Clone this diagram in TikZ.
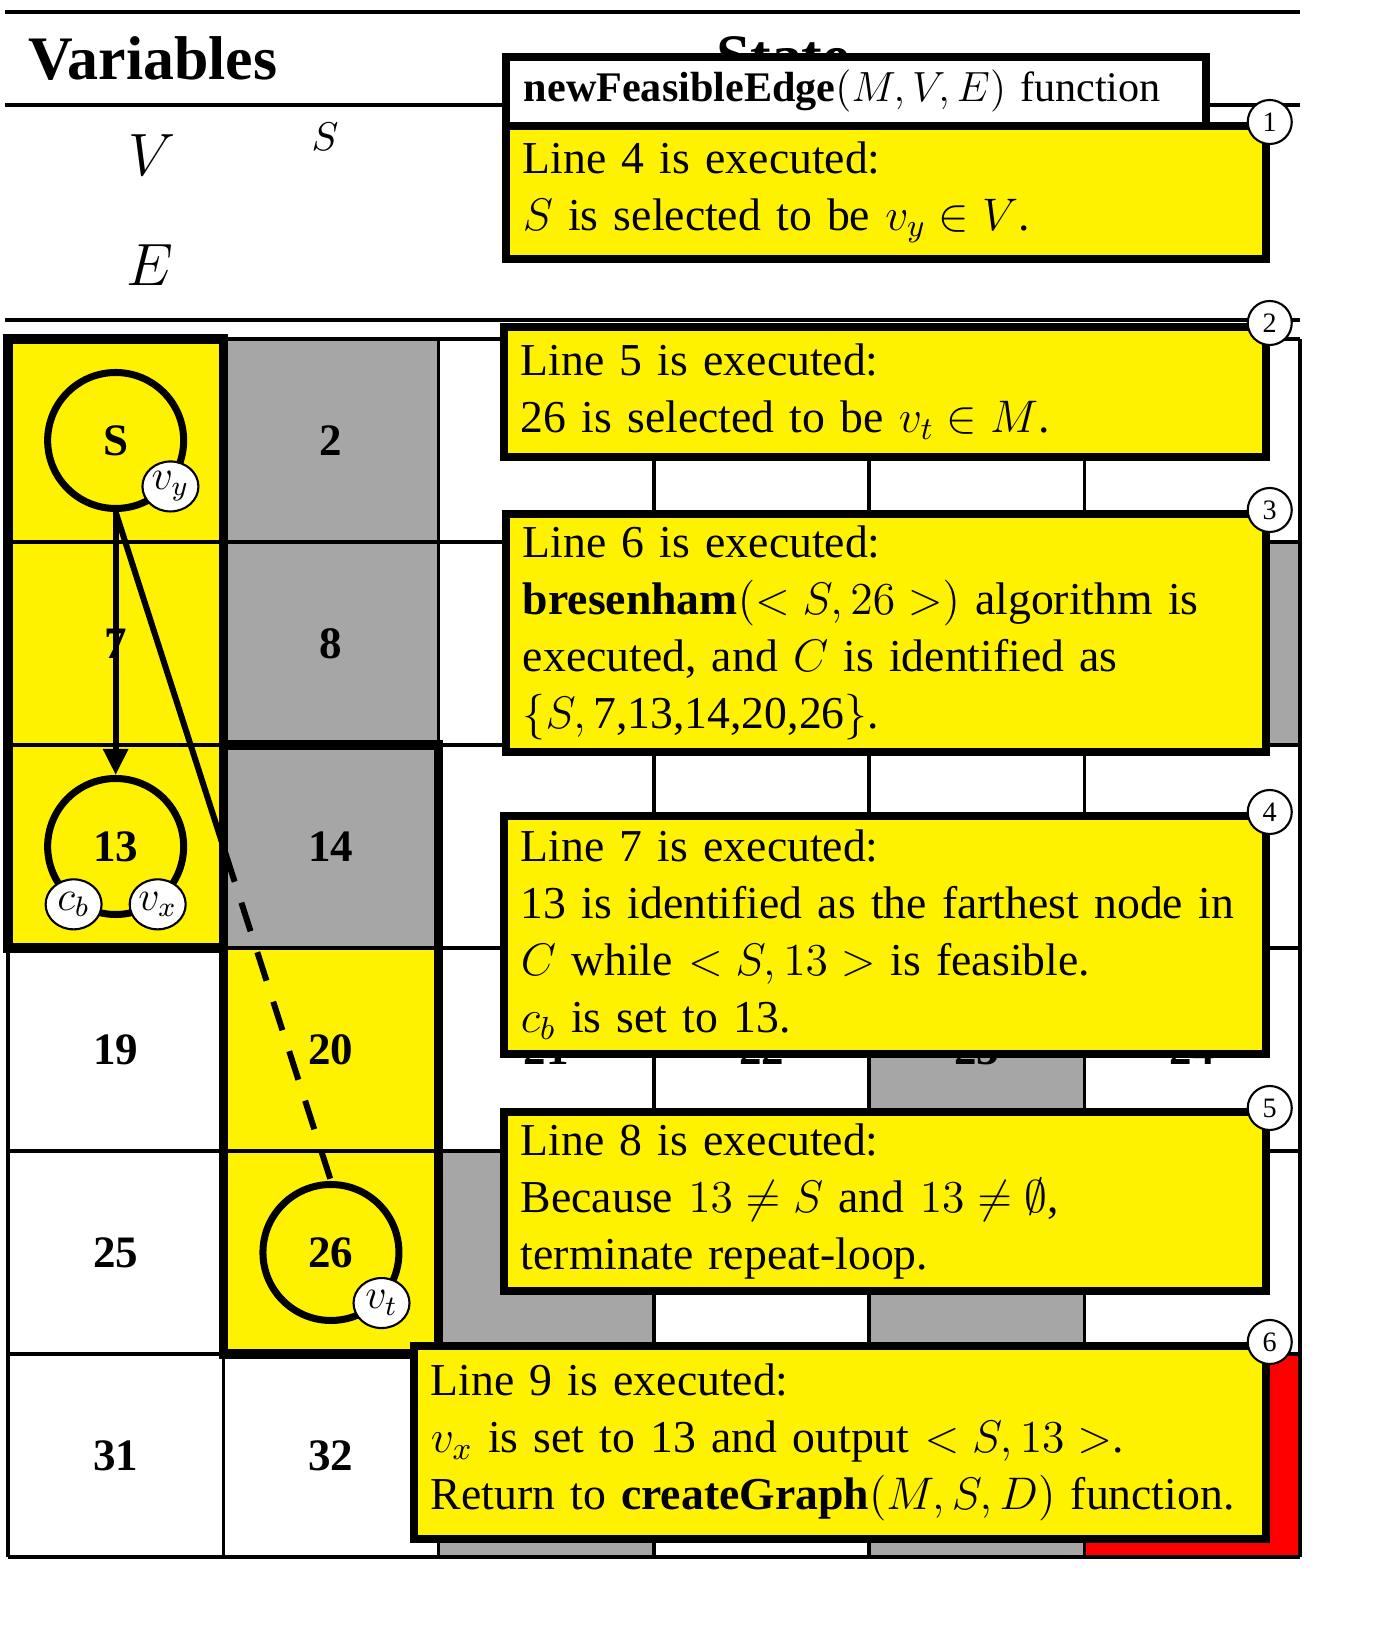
\documentclass[tikz,border=0pt]{standalone}
\usepackage{fix-cm}
\usepackage{fontspec}
\setmainfont{Liberation Serif}
\usetikzlibrary{arrows.meta,shapes.geometric,calc}

\definecolor{cellgray}{RGB}{166,166,166}

\begin{document}
\begin{tikzpicture}[
  cell/.style={minimum width=2.153cm, minimum height=2.03cm, inner sep=0pt, outer sep=0pt, font=\fontsize{12.8}{15}\selectfont\bfseries},
  vertex/.style={circle, draw, line width=2pt, minimum size=1.36cm, inner sep=0pt, font=\fontsize{12.8}{15}\selectfont\bfseries},
  tag/.style={ellipse, draw, fill=white, line width=0.6pt, minimum width=0.56cm, minimum height=0.5cm, inner sep=0pt, font=\fontsize{12}{12}\selectfont},
  edge/.style={line width=1.7pt},
  region/.style={line width=2.6pt},
  callout/.style={draw, fill=yellow, line width=2.2pt, anchor=north west, align=left, inner xsep=0.17cm, inner ysep=0pt, font=\fontsize{13}{16.2}\selectfont},
  stepnum/.style={circle, draw, fill=white, line width=0.6pt, minimum size=0.44cm, inner sep=0pt, font=\fontsize{8}{8}\selectfont}]
\useasboundingbox (-0.08,-0.88) rectangle (13.72,15.57);

% the map
\begin{scope}[x=2.153cm,y=2.03cm]
\node[cell,fill=yellow] (c1) at (0.5,5.5) {};
\node[cell,fill=cellgray] (c2) at (1.5,5.5) {2};
\node[cell,fill=white] (c3) at (2.5,5.5) {3};
\node[cell,fill=white] (c4) at (3.5,5.5) {4};
\node[cell,fill=white] (c5) at (4.5,5.5) {5};
\node[cell,fill=white] (c6) at (5.5,5.5) {6};

\node[cell,fill=yellow] (c7) at (0.5,4.5) {7};
\node[cell,fill=cellgray] (c8) at (1.5,4.5) {8};
\node[cell,fill=white] (c9) at (2.5,4.5) {9};
\node[cell,fill=white] (c10) at (3.5,4.5) {10};
\node[cell,fill=white] (c11) at (4.5,4.5) {11};
\node[cell,fill=cellgray] (c12) at (5.5,4.5) {12};

\node[cell,fill=yellow] (c13) at (0.5,3.5) {};
\node[cell,fill=cellgray] (c14) at (1.5,3.5) {14};
\node[cell,fill=white] (c15) at (2.5,3.5) {15};
\node[cell,fill=white] (c16) at (3.5,3.5) {16};
\node[cell,fill=white] (c17) at (4.5,3.5) {17};
\node[cell,fill=white] (c18) at (5.5,3.5) {18};

\node[cell,fill=white] (c19) at (0.5,2.5) {19};
\node[cell,fill=yellow] (c20) at (1.5,2.5) {20};
\node[cell,fill=white] (c21) at (2.5,2.5) {21};
\node[cell,fill=white] (c22) at (3.5,2.5) {22};
\node[cell,fill=cellgray] (c23) at (4.5,2.5) {23};
\node[cell,fill=white] (c24) at (5.5,2.5) {24};

\node[cell,fill=white] (c25) at (0.5,1.5) {25};
\node[cell,fill=yellow] (c26) at (1.5,1.5) {};
\node[cell,fill=cellgray] (c27) at (2.5,1.5) {27};
\node[cell,fill=white] (c28) at (3.5,1.5) {28};
\node[cell,fill=cellgray] (c29) at (4.5,1.5) {29};
\node[cell,fill=white] (c30) at (5.5,1.5) {30};

\node[cell,fill=white] (c31) at (0.5,0.5) {31};
\node[cell,fill=white] (c32) at (1.5,0.5) {32};
\node[cell,fill=cellgray] (c33) at (2.5,0.5) {33};
\node[cell,fill=white] (c34) at (3.5,0.5) {34};
\node[cell,fill=cellgray] (c35) at (4.5,0.5) {35};
\node[cell,fill=red] (c36) at (5.5,0.5) {36};

\draw[step=1, line width=1pt] (0,0) grid (6,6);
\draw[region] (0,3) rectangle (1,6);
\draw[region] (1,1) rectangle (2,4);

% the edge S -> 13
\node[vertex] (vS) at (0.5,5.5) {S};
\node[vertex] (v13) at (0.5,3.5) {13};
\node[vertex] (v26) at (1.5,1.5) {26};
\node[tag] (ty) at (vS.-40) {$v_y$};
\node[tag] (tb) at (v13.-126) {$c_b$};
\node[tag] (tx) at (v13.-54) {$v_x$};
\node[tag] (tt) at (v26.-45) {$v_t$};
\coordinate (cut) at ($(vS.south)!0.51!(v26.north)$);
\draw[edge,-{Triangle[length=0.26cm,width=0.24cm]}] (vS.south) -- (v13.north);
\draw[edge] (vS.south) -- (cut);
\draw[edge,dash pattern=on 0.3cm off 0.22cm] (cut) -- (v26.north);
\end{scope}

% header
\draw[line width=1.1pt] (-0.03,15.45) -- (12.92,15.45);
\node[anchor=base west, inner sep=0pt, font=\fontsize{17.6}{20}\selectfont\bfseries] (vars) at (0.20,14.77) {Variables};
\node[anchor=base, inner sep=0pt, font=\fontsize{17.6}{20}\selectfont\bfseries] (state) at (7.75,14.79) {State};
\draw[line width=1.1pt] (-0.03,14.52) -- (12.92,14.52);
\node[font=\fontsize{17}{20}\selectfont] (varV) at (1.44,14.02) {$V$};
\node[font=\fontsize{17}{20}\selectfont] (varE) at (1.42,12.92) {$E$};
\node[font=\fontsize{11.4}{13}\selectfont] (varS) at (3.17,14.20) {$S$};
\draw[line width=1.4pt] (-0.03,12.37) -- (12.92,12.37);

% callouts
\node[draw, fill=white, line width=2.2pt, anchor=north west, align=left, inner xsep=0.18cm, inner ysep=0pt, text width=6.64cm, minimum height=0.69cm, font=\fontsize{12}{14}\selectfont] (title) at (4.94,15.04) {\textbf{newFeasibleEdge}$(M,V,E)$ function};
\node[callout, text width=7.26cm, minimum height=1.33cm] (box1) at (4.94,14.35) {Line 4 is executed:\\$S$ is selected to be $v_y\in V$.};
\node[callout, text width=7.28cm, minimum height=1.30cm] (box2) at (4.92,12.34) {Line 5 is executed:\\26 is selected to be $v_t\in M$.};
\node[callout, text width=7.26cm, minimum height=2.38cm] (box3) at (4.94,10.47) {Line 6 is executed:\\\textbf{bresenham}$(<S,26>)$ algorithm is\\executed, and $C$ is identified as\\$\{S,$\,7,13,14,20,26$\}$.};
\node[callout, text width=7.28cm, minimum height=2.38cm] (box4) at (4.92,7.45) {Line 7 is executed:\\13 is identified as the farthest node in\\$C$ while $<S,13>$ is feasible.\\$c_b$ is set to 13.};
\node[callout, text width=7.28cm, minimum height=1.79cm] (box5) at (4.92,4.49) {Line 8 is executed:\\Because $13\neq S$ and $13\neq\emptyset$,\\terminate repeat-loop.};
\node[callout, text width=8.18cm, minimum height=1.93cm] (box6) at (4.02,2.15) {Line 9 is executed:\\$v_x$ is set to 13 and output $<S,13>$.\\Return to \textbf{createGraph}$(M,S,D)$ function.};

\node[stepnum] (n1) at (box1.north east) {1};
\node[stepnum] (n2) at (box2.north east) {2};
\node[stepnum] (n3) at (box3.north east) {3};
\node[stepnum] (n4) at (box4.north east) {4};
\node[stepnum] (n5) at (box5.north east) {5};
\node[stepnum] (n6) at (box6.north east) {6};
\end{tikzpicture}
\end{document}
